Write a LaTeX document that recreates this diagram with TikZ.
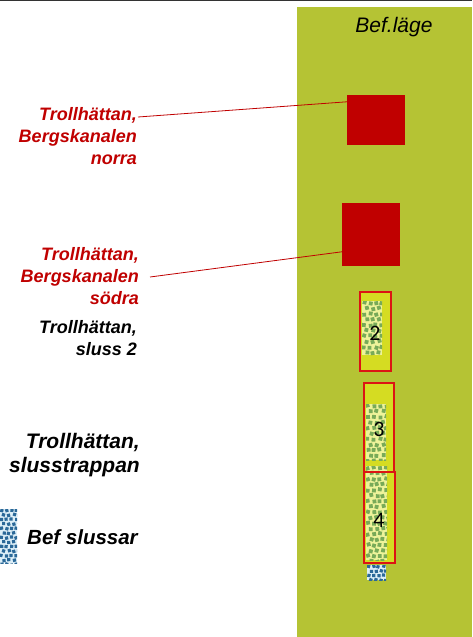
\documentclass[tikz,border=0pt]{standalone}
\usepackage{fontspec}
\setmainfont{Liberation Sans}
\newfontfamily\digitfont{Carlito}
\usetikzlibrary{calc}

\definecolor{bandgreen}{HTML}{B5C334}
\definecolor{deepred}{HTML}{C00000}
\definecolor{boxred}{HTML}{DC1414}
\definecolor{boxfill}{HTML}{D5DC22}
\definecolor{paleyellow}{HTML}{EEF39A}
\definecolor{spotgreen}{HTML}{78AA58}
\definecolor{paleblue}{HTML}{DDEFF8}
\definecolor{spotblue}{HTML}{2A6898}

% mottled field: #1,#2 top-left, #3,#4 bottom-right, #5 columns, #6 rows
\newcommand\greenmottle[6]{%
  \begin{scope}
    \clip (#1,#2) rectangle (#3,#4);
    \fill[paleyellow] (#1,#2) rectangle (#3,#4);
    \foreach \i in {0,...,#5}{
      \foreach \j in {0,...,#6}{
        \pgfmathsetmacro\px{#1+2+6*\i+3*mod(\j,2)+1.6*rnd-0.8}
        \pgfmathsetmacro\py{#2+2+5.5*\j+1.6*rnd-0.8}
        \pgfmathsetmacro\ang{40*rnd-20}
        \fill[spotgreen, rotate around={\ang:(\px,\py)}]
          (\px-1.9,\py-1.9) rectangle ++(3.8,3.8);
      }
    }
  \end{scope}}

% speckled blue field
\newcommand\bluemottle[6]{%
  \begin{scope}
    \clip (#1,#2) rectangle (#3,#4);
    \fill[paleblue] (#1,#2) rectangle (#3,#4);
    \foreach \i in {0,...,#5}{
      \foreach \j in {0,...,#6}{
        \pgfmathsetmacro\px{#1+1.5+5*\i+2.5*mod(\j,2)+1.2*rnd-0.6}
        \pgfmathsetmacro\py{#2+1.5+4.5*\j+1.2*rnd-0.6}
        \pgfmathsetmacro\ang{40*rnd-20}
        \fill[spotblue, rotate around={\ang:(\px,\py)}]
          (\px-1.6,\py-1.6) rectangle ++(3.2,3.2);
      }
    }
  \end{scope}}

\tikzset{
  redlabel/.style={font=\bfseries\itshape\fontsize{18}{22}\selectfont,
    text=deepred, align=right, inner sep=0pt},
  blacklabel/.style={font=\bfseries\itshape\fontsize{18}{22}\selectfont,
    text=black, align=right, inner sep=0pt},
  biglabel/.style={font=\bfseries\itshape\fontsize{21}{24}\selectfont,
    text=black, align=right, inner sep=0pt},
  site/.style={fill=deepred, draw=none, inner sep=0pt},
  lockbox/.style={draw=boxred, line width=1.3pt, inner sep=0pt},
  locknum/.style={font=\digitfont\fontsize{22}{22}\selectfont, inner sep=0pt},
  pointer/.style={draw=deepred, line width=0.8pt}
}

\begin{document}
\begin{tikzpicture}[x=1pt, y=-1pt]
  \pgfmathsetseed{7}
  \useasboundingbox (0,0) rectangle (472,637);
  \fill[white] (0,0) rectangle (472,637);
  \fill[black!80] (0,0) rectangle (472,1.3);

  % status column
  \fill[bandgreen] (297,7) rectangle (472,637);
  \node[font=\itshape\fontsize{21}{24}\selectfont, anchor=base] (head) at (394,32) {Bef.läge};

  % canal sites
  \node[site, minimum width=58pt, minimum height=50pt] (sq1) at (376,120) {};
  \node[site, minimum width=58pt, minimum height=63pt] (sq2) at (371,234.5) {};

  % lock chambers
  \fill[boxfill] (360,292) rectangle (391,371);
  \greenmottle{362}{301}{382}{355}{3}{9}
  \fill[boxfill] (364,383) rectangle (394,563);
  \greenmottle{366}{404}{386}{460}{3}{10}
  \greenmottle{366}{466}{387}{560}{3}{17}
  \bluemottle{367}{565}{386}{580}{4}{3}

  \node[lockbox, minimum width=31pt, minimum height=79pt] (l2) at (375.5,331.5) {};
  \node[lockbox, minimum width=30pt, minimum height=89pt] (l3) at (379,427.5) {};
  \node[lockbox, minimum width=31pt, minimum height=91pt] (l4) at (379.5,517.5) {};
  \node[locknum] (n2) at (375,333) {2};
  \node[locknum] (n3) at (379,429) {3};
  \node[locknum] (n4) at (379,520) {4};

  % labels
  \node[redlabel, anchor=north east] (t1) at (137,107) {Trollhättan,\\Bergskanalen\\norra};
  \node[redlabel, anchor=north east] (t2) at (139,247) {Trollhättan,\\Bergskanalen\\södra};
  \node[blacklabel, anchor=north east] (t3) at (137,320) {Trollhättan,\\sluss 2};
  \node[biglabel, anchor=north east] (t4) at (140,433) {Trollhättan,\\slusstrappan};

  % legend
  \bluemottle{0}{509}{17}{563}{3}{12}
  \node[font=\bfseries\itshape\fontsize{20.5}{24}\selectfont, anchor=base west, inner sep=0pt] (leg) at (27,544) {Bef slussar};

  % pointers
  \coordinate (p1) at ($(t1.north east)+(1,10)$);
  \coordinate (q1) at ($(sq1.north west)+(0,7)$);
  \draw[pointer] (p1) -- (q1);
  \coordinate (p2) at ($(t2.north east)+(11,30)$);
  \coordinate (q2) at ($(sq2.north west)+(0,49)$);
  \draw[pointer] (p2) -- (q2);
\end{tikzpicture}
\end{document}
